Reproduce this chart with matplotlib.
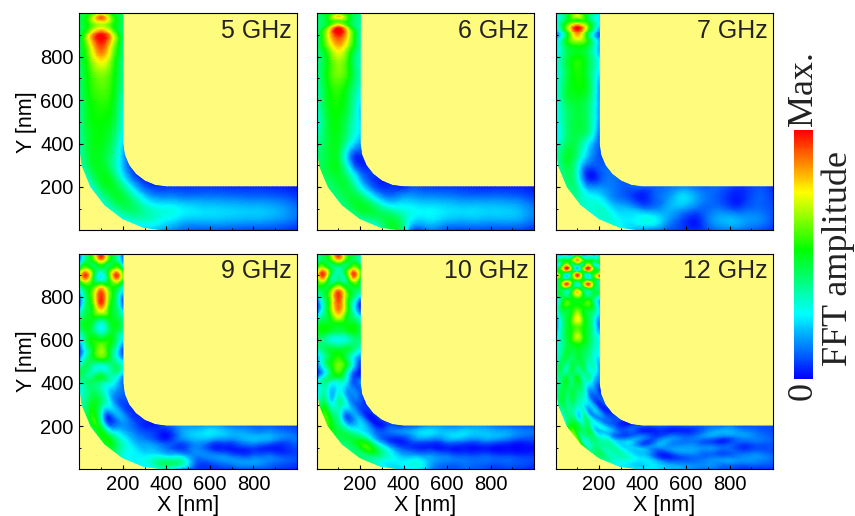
import numpy as np
import matplotlib
matplotlib.use('Agg')
import matplotlib.pyplot as plt
import matplotlib.tri as mtri
from matplotlib.colors import LinearSegmentedColormap, Normalize
from matplotlib.ticker import MultipleLocator
from matplotlib.cm import ScalarMappable

plt.rcParams['font.family'] = ['Liberation Sans', 'DejaVu Sans']

W, H = 855, 516

# amplitude is on a 0..100 scale, rows run along the guide from the top of the
# vertical arm to the right end of the horizontal arm, columns run outer -> inner
bend_deg = [15, 30, 45, 60, 75, 90]

labels = ['5 GHz', '6 GHz', '7 GHz', '9 GHz', '10 GHz', '12 GHz']

ys_5 = [1000, 972, 945, 905, 877, 830, 770, 700, 600, 500, 400]
xs_5 = [500, 600, 700, 800, 900, 1000]
amp_5 = [
    [42, 52, 68, 52, 40], [43, 62, 88, 62, 42], [43, 56, 68, 56, 42],
    [42, 74, 97, 74, 40], [42, 78, 100, 78, 40], [42, 68, 90, 68, 40],
    [42, 60, 74, 60, 38], [40, 55, 62, 55, 38], [38, 52, 56, 52, 32],
    [36, 50, 52, 48, 28], [34, 48, 50, 42, 22],
    [34, 48, 47, 36, 16], [30, 47, 47, 28, 10], [30, 45, 44, 24, 6],
    [28, 42, 38, 20, 5], [24, 34, 30, 16, 5], [16, 26, 28, 16, 6],
    [10, 20, 24, 14, 6], [9, 20, 22, 14, 6], [8, 19, 21, 13, 5],
    [7, 18, 20, 12, 5], [6, 16, 18, 11, 4], [4, 11, 12, 7, 2],
]

ys_6 = [1000, 980, 958, 935, 905, 870, 820, 750, 650, 550, 480, 400]
xs_6 = [430, 500, 600, 700, 800, 900, 1000]
amp_6 = [
    [40, 50, 60, 50, 36], [40, 52, 78, 52, 36], [40, 48, 60, 48, 36],
    [38, 60, 95, 60, 34], [38, 72, 100, 72, 34], [38, 68, 88, 68, 34],
    [38, 56, 74, 56, 34], [38, 52, 64, 52, 32], [34, 50, 56, 46, 30],
    [30, 48, 52, 42, 22], [28, 46, 50, 38, 24], [36, 46, 48, 30, 16],
    [42, 48, 42, 12, 6], [40, 46, 40, 15, 4], [38, 46, 36, 14, 6],
    [36, 48, 35, 12, 3], [34, 44, 30, 12, 5], [38, 36, 28, 18, 4],
    [14, 27, 27, 18, 8], [10, 23, 25, 16, 7], [8, 20, 23, 15, 6],
    [7, 19, 22, 13, 5], [7, 18, 21, 13, 4], [7, 18, 20, 12, 4],
    [4, 12, 13, 7, 2],
]

ys_7 = [1000, 985, 960, 935, 910, 885, 850, 800, 730, 660, 600, 540, 480, 430, 400]
xs_7 = [460, 520, 580, 640, 700, 760, 820, 880, 940, 1000]
amp_7 = [
    [28, 47, 62, 47, 25], [26, 44, 72, 44, 24], [24, 50, 58, 50, 24],
    [22, 62, 100, 62, 20], [12, 48, 88, 48, 10], [16, 48, 76, 48, 14],
    [20, 46, 54, 46, 18], [24, 44, 52, 44, 22], [26, 44, 54, 44, 24],
    [26, 46, 52, 46, 16], [24, 44, 48, 42, 16], [24, 40, 46, 40, 16],
    [22, 40, 46, 40, 14], [20, 40, 44, 34, 10], [26, 42, 42, 26, 10],
    [36, 46, 30, 16, 8], [38, 34, 6, 6, 10], [32, 28, 18, 12, 12],
    [28, 30, 18, 12, 10], [27, 24, 18, 8, 10], [16, 28, 14, 3, 10],
    [12, 26, 14, 10, 10], [8, 16, 18, 16, 12], [6, 8, 17, 23, 14],
    [5, 3, 12, 18, 12], [8, 12, 11, 12, 10], [12, 18, 12, 8, 10],
    [12, 19, 8, 3, 6], [10, 16, 10, 6, 6], [8, 14, 11, 10, 8], [4, 8, 8, 6, 4],
]

ys_9 = [1000, 985, 950, 925, 897, 870, 840, 784, 740, 700, 660, 620, 580, 550, 510, 470, 430, 400]
xs_9 = [470, 540, 610, 680, 750, 820, 890, 1000]
amp_9 = [
    [14, 42, 58, 85, 58, 42, 14], [10, 40, 64, 97, 64, 40, 10],
    [24, 50, 44, 60, 44, 50, 22], [50, 72, 48, 40, 48, 72, 46],
    [66, 94, 50, 25, 50, 94, 60], [50, 72, 48, 38, 48, 72, 46],
    [30, 50, 60, 80, 60, 50, 28], [6, 42, 66, 97, 66, 42, 7],
    [18, 44, 58, 80, 58, 44, 18], [37, 47, 50, 46, 50, 47, 35],
    [40, 50, 40, 26, 40, 50, 38], [28, 44, 48, 40, 48, 44, 28],
    [14, 40, 54, 60, 54, 40, 16], [6, 32, 52, 66, 52, 32, 6],
    [16, 38, 48, 54, 48, 34, 18], [36, 42, 32, 28, 32, 42, 30],
    [44, 38, 40, 47, 37, 32, 14], [30, 40, 42, 37, 32, 24, 10],
    [35, 45, 48, 38, 22, 12, 10], [42, 52, 20, 8, 20, 10, 6],
    [45, 50, 30, 18, 15, 10, 4], [30, 28, 26, 18, 12, 6, 4],
    [26, 28, 22, 18, 10, 6, 3], [28, 42, 22, 12, 5, 2, 8],
    [14, 36, 20, 6, 12, 16, 16], [5, 10, 14, 14, 18, 22, 16],
    [5, 10, 14, 5, 14, 24, 18], [6, 14, 12, 3, 12, 20, 14],
    [8, 16, 7, 5, 16, 18, 12], [7, 16, 10, 6, 18, 16, 10],
    [6, 12, 10, 3, 14, 16, 10], [3, 7, 7, 8, 12, 10, 6],
]

ys_10 = [1000, 985, 950, 925, 900, 870, 830, 790, 755, 710, 670, 630, 600, 560, 520, 490, 450, 420, 400]
xs_10 = [470, 540, 620, 700, 800, 900, 1000]
amp_10 = [
    [37, 52, 58, 85, 58, 52, 37], [32, 46, 64, 94, 64, 46, 32],
    [42, 52, 42, 52, 42, 52, 40], [58, 78, 48, 34, 48, 78, 54],
    [64, 94, 46, 36, 46, 92, 58], [50, 68, 38, 44, 38, 66, 44],
    [42, 46, 62, 86, 62, 46, 38], [16, 40, 66, 94, 66, 40, 14],
    [3, 34, 66, 90, 66, 32, 3], [22, 40, 56, 76, 56, 40, 22],
    [45, 50, 50, 50, 50, 50, 40], [45, 48, 42, 40, 42, 48, 42],
    [42, 38, 30, 28, 30, 38, 40], [35, 42, 46, 45, 46, 42, 30],
    [18, 35, 48, 55, 45, 28, 14], [12, 36, 52, 62, 52, 28, 6],
    [4, 22, 45, 58, 40, 14, 2], [18, 35, 42, 42, 32, 10, 10],
    [24, 38, 30, 30, 26, 10, 14],
    [40, 42, 25, 36, 18, 14, 8], [55, 45, 30, 10, 18, 8, 5],
    [38, 45, 40, 25, 22, 6, 5], [40, 46, 56, 30, 14, 4, 6],
    [30, 30, 34, 20, 6, 12, 8], [24, 26, 18, 8, 4, 14, 8],
    [24, 28, 16, 4, 12, 22, 12], [12, 16, 14, 3, 10, 22, 16],
    [8, 12, 10, 3, 16, 22, 14], [10, 12, 8, 2, 12, 22, 16],
    [6, 10, 8, 2, 14, 20, 14], [6, 10, 6, 1, 8, 16, 10], [3, 7, 5, 1, 7, 12, 8],
]

ys_12 = [1000, 985, 965, 950, 934, 917, 900, 880, 860, 840, 822, 795, 770, 740, 700, 660, 620, 580, 520, 470, 430, 400]
xs_12 = [470, 540, 620, 700, 780, 860, 930, 1000]
amp_12 = [
    [45, 30, 38, 35, 55, 35, 38, 30, 42], [40, 24, 28, 30, 58, 30, 28, 24, 40],
    [50, 45, 52, 60, 85, 60, 52, 45, 50], [48, 35, 68, 38, 55, 38, 68, 35, 45],
    [35, 58, 98, 58, 20, 58, 98, 58, 35], [60, 50, 68, 48, 50, 48, 68, 50, 58],
    [97, 55, 25, 55, 97, 55, 25, 55, 92], [60, 48, 45, 50, 66, 50, 45, 48, 55],
    [35, 58, 94, 58, 30, 58, 94, 58, 35], [42, 48, 60, 45, 50, 45, 60, 48, 40],
    [45, 45, 34, 52, 80, 52, 34, 45, 45], [24, 42, 46, 50, 60, 50, 46, 42, 26],
    [20, 42, 60, 52, 50, 52, 60, 42, 18], [22, 44, 48, 52, 60, 52, 48, 42, 22],
    [14, 34, 46, 58, 76, 58, 46, 32, 16], [12, 32, 46, 54, 60, 54, 46, 32, 12],
    [22, 34, 46, 56, 70, 56, 46, 34, 24], [28, 34, 44, 50, 54, 50, 44, 34, 30],
    [30, 38, 46, 42, 46, 44, 38, 30, 24], [32, 44, 34, 46, 38, 44, 32, 32, 16],
    [30, 40, 44, 40, 48, 34, 38, 26, 14], [32, 40, 48, 40, 46, 38, 28, 20, 10],
    [35, 45, 38, 42, 34, 30, 14, 10, 6], [40, 48, 40, 26, 36, 14, 22, 6, 8],
    [60, 30, 40, 40, 20, 26, 12, 10, 5], [38, 42, 34, 36, 28, 14, 14, 6, 6],
    [24, 28, 34, 28, 22, 20, 8, 10, 4], [26, 22, 24, 20, 18, 8, 14, 4, 8],
    [24, 22, 12, 6, 14, 16, 8, 4, 10], [20, 16, 6, 10, 16, 14, 14, 4, 8],
    [15, 14, 10, 15, 17, 13, 11, 5, 10], [11, 15, 13, 11, 15, 8, 15, 15, 12],
    [8, 13, 15, 8, 11, 5, 11, 19, 13], [5, 11, 15, 11, 5, 9, 15, 15, 9],
    [5, 11, 15, 13, 8, 11, 13, 11, 9], [5, 9, 11, 9, 8, 9, 9, 8, 7],
]

ys_all = [ys_5, ys_6, ys_7, ys_9, ys_10, ys_12]
xs_all = [xs_5, xs_6, xs_7, xs_9, xs_10, xs_12]
amp_all = [amp_5, amp_6, amp_7, amp_9, amp_10, amp_12]

# axes boxes in pixels: left, top, right, bottom
boxes = [(79.3, 13.3, 297, 230.3), (316.7, 13.3, 534, 230.3), (555.7, 13.3, 773, 230.3),
         (79.3, 253.5, 297, 469.3), (316.7, 253.5, 534, 469.3), (555.7, 253.5, 773, 469.3)]

cmap = LinearSegmentedColormap.from_list(
    'fft', [(0, '#0000ff'), (0.26, '#00ffff'), (0.52, '#00ff00'), (0.75, '#ffff00'), (1, '#ff0000')])
norm = Normalize(0, 100)
yellow = '#FFFB7D'


def add_axes_px(l, t, r, b):
    return fig.add_axes([l / W, 1 - b / H, (r - l) / W, (b - t) / H])


def guide_mesh(ys, xs, amp):
    # turn the (along, across) table into x/y nodes of the L shaped guide
    amp = np.array(amp, dtype=float)
    n_row, n_col = amp.shape
    u = np.linspace(0, 1, n_col)
    px, py = [], []
    for y in ys:
        px.append(200 * u)
        py.append(np.full(n_col, float(y)))
    for deg in bend_deg:
        r = 400 - 200 * u
        t = np.radians(deg)
        px.append(400 - r * np.cos(t))
        py.append(400 - r * np.sin(t))
    for x in xs:
        px.append(np.full(n_col, float(x)))
        py.append(200 * u)
    px = np.concatenate(px)
    py = np.concatenate(py)
    tris = []
    for i in range(n_row - 1):
        for j in range(n_col - 1):
            a = i * n_col + j
            # mirror the diagonals about the guide axis so spots stay upright
            if j < (n_col - 1) / 2:
                tris.append([a, a + n_col, a + 1])
                tris.append([a + 1, a + n_col, a + n_col + 1])
            else:
                tris.append([a, a + n_col, a + n_col + 1])
                tris.append([a, a + n_col + 1, a + 1])
    return mtri.Triangulation(px, py, tris), amp.ravel()


fig = plt.figure(figsize=(W / 100, H / 100), dpi=100)

for i, box in enumerate(boxes):
    ax = add_axes_px(*box)
    ax.set_facecolor(yellow)
    tri, z = guide_mesh(ys_all[i], xs_all[i], amp_all[i])
    tri2, z2 = mtri.UniformTriRefiner(tri).refine_field(z, subdiv=3)
    ax.tripcolor(tri2, np.clip(z2, 0, 100), shading='gouraud', cmap=cmap, norm=norm)
    ax.set_xlim(0, 1000)
    ax.set_ylim(0, 1000)
    ax.xaxis.set_minor_locator(MultipleLocator(100))
    ax.yaxis.set_minor_locator(MultipleLocator(100))
    ax.tick_params(which='major', direction='in', length=3, width=0.8, labelsize=14.5, pad=4)
    ax.tick_params(which='minor', direction='in', length=1.5, width=0.7)
    ax.set_xticks([200, 400, 600, 800])
    ax.set_yticks([200, 400, 600, 800])
    if i % 3 != 0:
        ax.tick_params(labelleft=False)
    else:
        ax.set_ylabel('Y [nm]', fontsize=15.5, labelpad=2)
    if i < 3:
        ax.tick_params(labelbottom=False)
    else:
        ax.set_xlabel('X [nm]', fontsize=15.5, labelpad=1)
    ax.text(0.975, 0.917, labels[i], transform=ax.transAxes, ha='right', va='center',
            fontsize=18, color='#222222')

# colour bar with only the text around it
cax = add_axes_px(794, 130, 813, 379)
cb = fig.colorbar(ScalarMappable(norm=norm, cmap=cmap), cax=cax)
cb.set_ticks([])
cb.outline.set_visible(False)

fig.text(803 / W, 1 - 126 / H, 'Max.', rotation=90, ha='center', va='bottom',
         family=['Liberation Serif'], fontsize=26, color='#222222')
fig.text(803 / W, 1 - 382 / H, '0', rotation=90, ha='center', va='top',
         family=['Liberation Serif'], fontsize=26, color='#222222')
fig.text(838 / W, 1 - 258 / H, 'FFT amplitude', rotation=90, ha='center', va='center',
         family=['Liberation Serif'], fontsize=26, color='#222222')

fig.savefig('out.png', dpi=100)
